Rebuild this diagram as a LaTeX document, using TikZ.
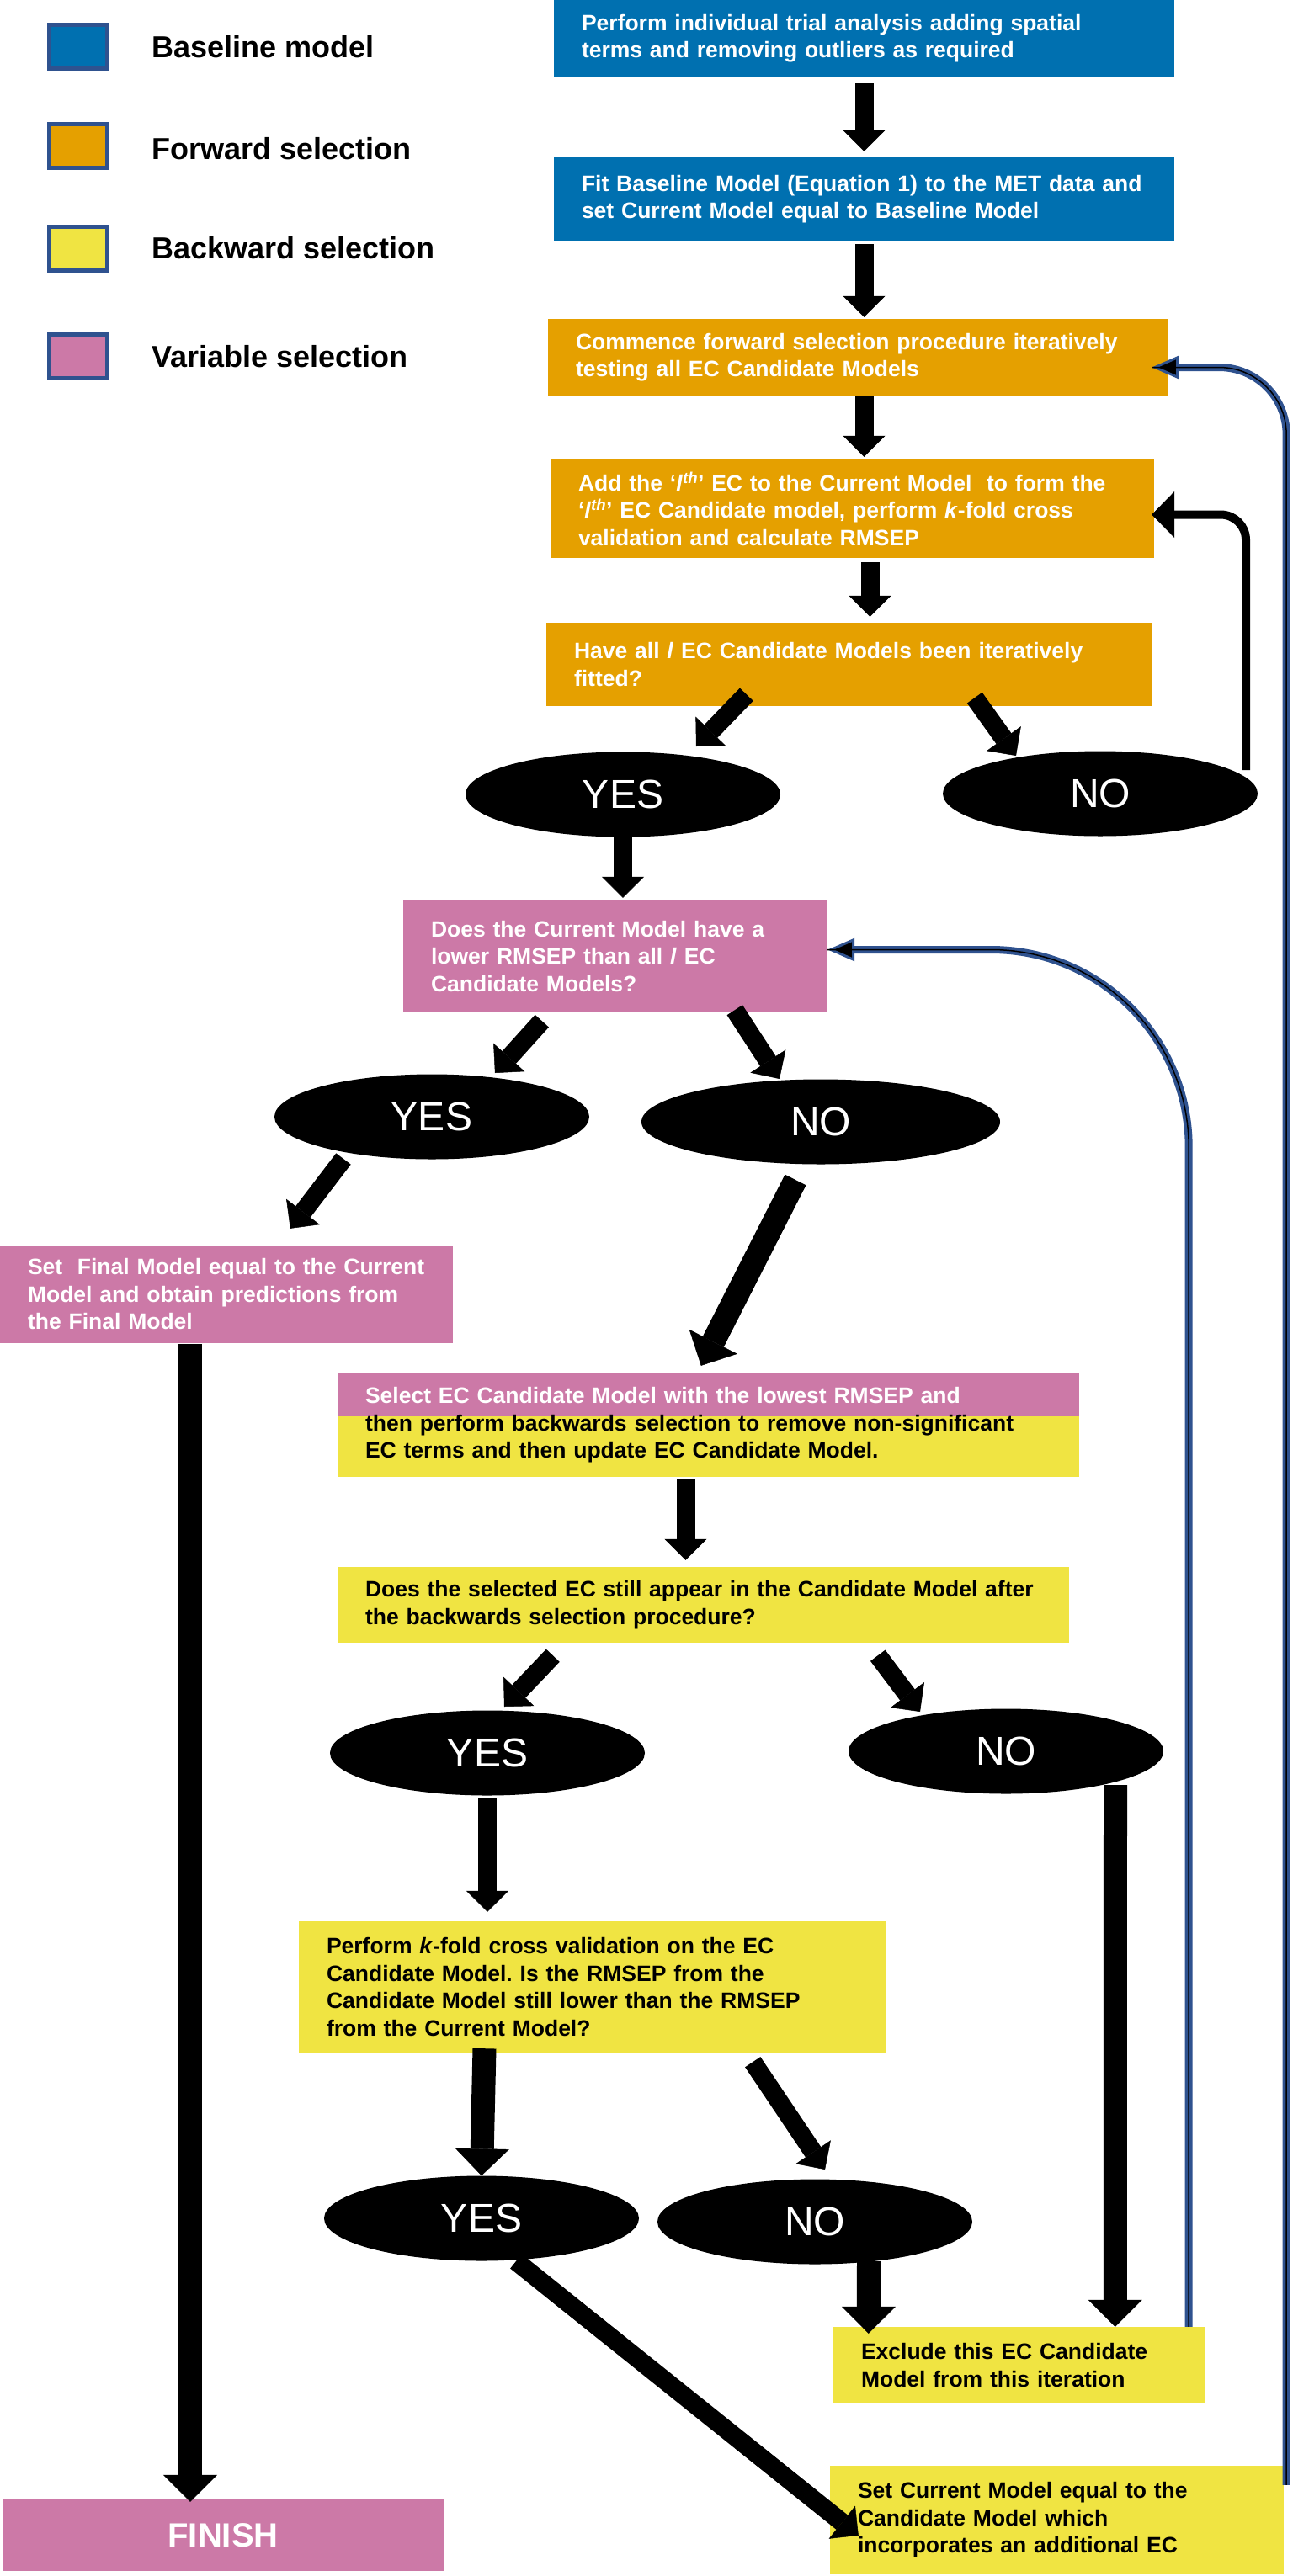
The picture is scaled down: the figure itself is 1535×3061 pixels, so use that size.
\documentclass[tikz,border=0pt]{standalone}
\usepackage{fontspec}
\setmainfont{Liberation Sans}
\frenchspacing
\usetikzlibrary{arrows.meta,shapes.geometric,calc}

\definecolor{baseblue}{HTML}{0070B0}
\definecolor{fwdorange}{HTML}{E5A000}
\definecolor{bwdyellow}{HTML}{F0E442}
\definecolor{varpink}{HTML}{CC79A7}
\definecolor{loopnavy}{HTML}{2F528F}

\tikzset{
  stepbox/.style={rectangle, inner xsep=33pt, inner ysep=0pt, align=left,
    font=\fontsize{26.5}{32.5}\selectfont\bfseries},
  answer/.style={ellipse, fill=black, text=white, inner sep=0pt,
    minimum width=374pt, minimum height=101pt, font=\fontsize{48}{48}\selectfont},
  keybox/.style={rectangle, draw=loopnavy, line width=5pt, inner sep=0pt,
    minimum width=69pt, minimum height=52pt},
  keytext/.style={anchor=west, inner sep=0pt, font=\fontsize{36}{36}\selectfont\bfseries},
  flow/.style={line width=22pt, -{Triangle[width=50pt,length=25pt,line width=0.5pt]}},
  thickflow/.style={line width=28pt, -{Triangle[width=64pt,length=32pt,line width=0.5pt]}},
  loopflow/.style={line width=10pt, rounded corners=30pt,
    -{Triangle[width=55pt,length=27pt,line width=0.5pt]}},
  backloop/.style={draw=loopnavy, line width=9pt,
    -{Triangle[width=27pt,length=32pt,line width=3pt,fill=black]},
    postaction={draw=black, line width=1.5pt, arrows=-}}
}

\begin{document}
\begin{tikzpicture}[x=1pt,y=-1pt]
  \useasboundingbox (0,0) rectangle (1535,3061);

  \node[keybox, fill=baseblue] (key1) at (93,55.5) {};
  \node[keybox, fill=fwdorange] (key2) at (93,174) {};
  \node[keybox, fill=bwdyellow] (key3) at (93,295.5) {};
  \node[keybox, fill=varpink] (key4) at (93,423.5) {};
  \node[keytext] (keylab1) at (180,56) {Baseline model};
  \node[keytext] (keylab2) at (180,177) {Forward selection};
  \node[keytext] (keylab3) at (180,295) {Backward selection};
  \node[keytext] (keylab4) at (180,424) {Variable selection};

  \node[stepbox, fill=baseblue, text=white, minimum height=91pt, text width=671pt] (box1) at (1026.5,45.5)
    {Perform individual trial analysis adding spatial\\terms and removing outliers as required};
  \node[stepbox, fill=baseblue, text=white, minimum height=99pt, text width=671pt] (box2) at (1026.5,236.5)
    {Fit Baseline Model (Equation 1) to the MET data and\\set Current Model equal to Baseline Model};
  \node[stepbox, fill=fwdorange, text=white, minimum height=91pt, text width=671pt] (box3) at (1019.5,424.5)
    {Commence forward selection procedure iteratively\\testing all EC Candidate Models};
  \node[stepbox, fill=fwdorange, text=white, minimum height=117pt, text width=651pt] (box4) at (1012.5,604.5)
    {Add the ‘\textit{l}\textsuperscript{\textit{th}}’ EC to the Current Model\ \ to form the\\‘\textit{l}\textsuperscript{\textit{th}}’ EC Candidate model, perform \textit{k}-fold cross\\validation and calculate RMSEP};
  \node[stepbox, fill=fwdorange, text=white, minimum height=99pt, text width=653pt] (box5) at (1008.5,789.5)
    {Have all \textit{l} EC Candidate Models been iteratively\\fitted?};
  \node[stepbox, fill=varpink, text=white, minimum height=133pt, text width=437pt] (box6) at (730.5,1136.5)
    {Does the Current Model have a\\lower RMSEP than all \textit{l} EC\\Candidate Models?};
  \node[stepbox, fill=varpink, text=white, minimum height=116pt, text width=472pt] (final) at (269,1538)
    {Set\ \ Final Model equal to the Current\\Model and obtain predictions from\\the Final Model};
  \node[stepbox, fill=bwdyellow, minimum height=123pt, text width=815pt,
    path picture={\fill[varpink] (path picture bounding box.north west) rectangle ($(path picture bounding box.north east)+(0,51)$);}] (select) at (841.5,1693.5)
    {{\color{white}Select EC Candidate Model with the lowest RMSEP and}\\then perform backwards selection to remove non-significant\\EC terms and then update EC Candidate Model.};
  \node[stepbox, fill=bwdyellow, minimum height=90pt, text width=803pt] (q3) at (835.5,1907)
    {Does the selected EC still appear in the Candidate Model after\\the backwards selection procedure?};
  \node[stepbox, fill=bwdyellow, minimum height=156pt, text width=631pt] (perform) at (703.5,2361)
    {Perform \textit{k}-fold cross validation on the EC\\Candidate Model. Is the RMSEP from the\\Candidate Model still lower than the RMSEP\\from the Current Model?};
  \node[stepbox, fill=bwdyellow, minimum height=91pt, text width=375pt] (exclude) at (1210.5,2810.5)
    {Exclude this EC Candidate\\Model from this iteration};
  \node[stepbox, fill=bwdyellow, minimum height=129pt, text width=473pt] (setcur) at (1255.5,2994.5)
    {Set Current Model equal to the\\Candidate Model which\\incorporates an additional EC};
  \node[stepbox, fill=varpink, text=white, minimum width=524pt, minimum height=85pt,
    font=\fontsize{40}{40}\selectfont\bfseries] (finish) at (265,3012.5) {FINISH};

  \node[answer] (yes1) at (740,944) {YES};
  \node[answer] (no1) at (1307,943) {NO};
  \node[answer] (yes2) at (513,1327) {YES};
  \node[answer, minimum width=426pt] (no2) at (975,1333) {NO};
  \node[answer] (yes3) at (579,2083) {YES};
  \node[answer] (no3) at (1195,2081) {NO};
  \node[answer] (yes4) at (572,2636) {YES};
  \node[answer] (no4) at (968,2640) {NO};

  \draw[flow, shorten <=8pt, shorten >=7pt] (box1.south) -- (box2.north);
  \draw[flow, shorten <=4pt, shorten >=2pt] (box2.south) -- (box2.south |- box3.north);
  \draw[flow, shorten >=3pt] ($(box3.south)+(7,0)$) -- ($(box3.south |- box4.north)+(7,0)$);
  \draw[flow, shorten <=5pt, shorten >=7pt] ($(box4.south)+(21,0)$) -- ($(box4.south |- box5.north)+(21,0)$);
  \draw[flow] ($(box5.south west)+(238,-14)$) -- ($(yes1.center)+(87,-57)$);
  \draw[flow] ($(box5.south west)+(509,-10)$) -- ($(no1.center)+(-100,-45)$);
  \draw[loopflow] ($(no1.center)+(173,-28)$) |- ($(box4.east)+(-3,7)$);
  \draw[backloop, rounded corners=80pt] ($(setcur.north east)+(3,23)$) |- ($(box3.east)+(-20,12)$);

  \draw[flow, shorten >=3pt] (yes1.south) -- (yes1.south |- box6.north);
  \draw[flow] ($(box6.south west)+(165,10)$) -- ($(yes2.center)+(75,-52)$);
  \draw[flow] ($(box6.south west)+(394,-3)$) -- ($(no2.center)+(-49,-51)$);
  \draw[flow] ($(yes2.center)+(-105,50)$) -- ($(final.north west)+(345,-20)$);
  \draw[thickflow] ($(no2.center)+(-30,69)$) -- ($(select.north west)+(432,-9)$);
  \draw[backloop, rounded corners=235pt] ($(exclude.north east)+(-19,0)$) |- ($(box6.east)+(1,-8)$);
  \draw[thickflow] ($(final.south)+(-43,1)$) -- ($(final.south |- finish.north)+(-43,3)$);

  \draw[flow, shorten <=2pt, shorten >=8pt] ($(select.south)+(-27,0)$) -- ($(select.south |- q3.north)+(-27,0)$);
  \draw[flow] ($(q3.south west)+(256,15)$) -- ($(yes3.center)+(20,-55)$);
  \draw[flow] ($(q3.south west)+(642,15)$) -- ($(no3.center)+(-102,-47)$);
  \draw[flow, shorten <=3pt, shorten >=11pt] (yes3.south) -- (yes3.south |- perform.north);
  \draw[thickflow] ($(no3.center)+(130,40)$) -- ($(exclude.north west)+(335,0)$);
  \draw[thickflow] ($(perform.south)+(-128,-5)$) -- (yes4.north);
  \draw[flow] ($(perform.south east)+(-158,11)$) -- ($(no4.center)+(12,-62)$);
  \draw[thickflow] ($(no4.center)+(64,47)$) -- ($(exclude.north west)+(42,8)$);
  \draw[flow] ($(yes4.center)+(41,51)$) -- ($(setcur.north west)+(34,83)$);
\end{tikzpicture}
\end{document}
